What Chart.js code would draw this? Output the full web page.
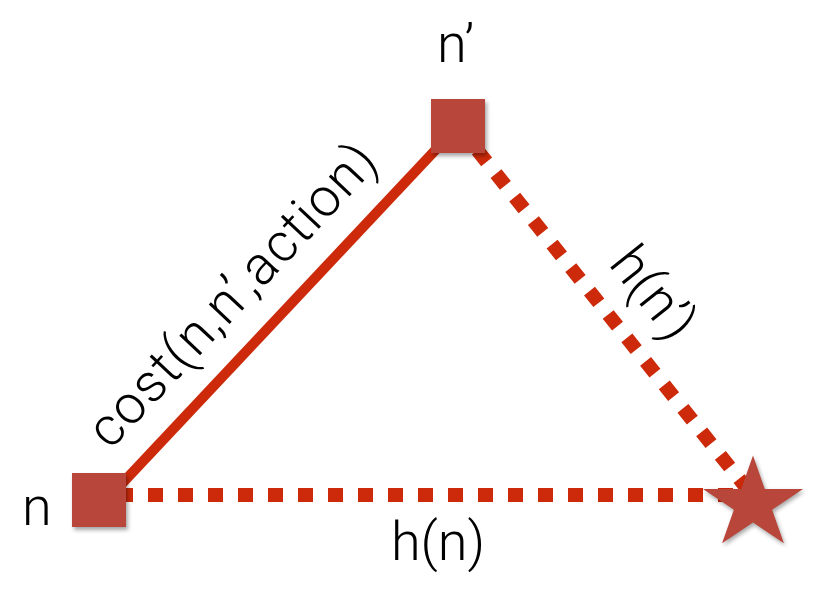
<!DOCTYPE html>
<html>
<head>
<meta charset="utf-8">
<script src="https://cdn.jsdelivr.net/npm/chart.js@4.4.0/dist/chart.umd.min.js"></script>
<style>
  html, body { margin: 0; padding: 0; background: #ffffff; }
  #wrap { width: 833px; height: 591px; position: relative; }
</style>
</head>
<body>
<div id="wrap"><canvas id="c" width="833" height="591"></canvas></div>
<script>
// ---- data (diagram coordinates) ----
const nodeNames = ['n', 'n’', 'goal'];
const nodeX = [99, 458, 753];
const nodeY = [500, 126, 504];

const costEdgeX = [100, 458];
const costEdgeY = [507, 126];
const hPrimeEdgeX = [458, 752];
const hPrimeEdgeY = [126, 495];
const hEdgeX = [100, 752];
const hEdgeY = [495, 495];

const nodeText = ['n', 'n’'];
const costText = 'cost(n,n’,action)';
const hPrimeText = 'h(n’)';
const hText = 'h(n)';

// ---- styles / layout (kept apart from the data) ----
const LINE_RED = '#cc2a0a';
const NODE_RED = '#b8463a';
const FONT = '300 54px Roboto, "Open Sans", Lato, sans-serif';
const labelLayout = {
  nodeLabels: [ {dx: -77, dy: 25}, {dx: -21, dy: -64} ], // left-aligned, relative to node
  edgeOffset: 31,
  hTextY: 560
};

function toPts(xs, ys) { return xs.map((x, i) => ({x: x, y: ys[i]})); }

function makeSquare(size) {
  const pad = 10;
  const c = document.createElement('canvas');
  c.width = size + pad * 2; c.height = size + pad * 2;
  const g = c.getContext('2d');
  g.shadowColor = 'rgba(0,0,0,0.35)';
  g.shadowBlur = 4; g.shadowOffsetX = 1.5; g.shadowOffsetY = 2.5;
  g.fillStyle = NODE_RED;
  g.fillRect(pad, pad, size, size);
  return c;
}
function makeStar(R, sy) {
  const S = 140;
  const c = document.createElement('canvas');
  c.width = S; c.height = S;
  const g = c.getContext('2d');
  g.shadowColor = 'rgba(0,0,0,0.35)';
  g.shadowBlur = 4; g.shadowOffsetX = 1.5; g.shadowOffsetY = 2.5;
  g.fillStyle = NODE_RED;
  g.beginPath();
  const ri = R * 0.382;
  for (let k = 0; k < 10; k++) {
    const r = k % 2 === 0 ? R : ri;
    const a = -Math.PI / 2 + k * Math.PI / 5;
    const px = S / 2 + r * Math.cos(a);
    const py = S / 2 + r * Math.sin(a) * sy;
    if (k === 0) g.moveTo(px, py); else g.lineTo(px, py);
  }
  g.closePath();
  g.fill();
  return c;
}

const labelPlugin = {
  id: 'diagramLabels',
  afterDatasetsDraw(chart) {
    const ctx = chart.ctx;
    const xs = chart.scales.x, ys = chart.scales.y;
    ctx.save();
    ctx.fillStyle = '#000';
    ctx.font = FONT;
    ctx.textBaseline = 'alphabetic';
    // node labels
    ctx.textAlign = 'left';
    nodeText.forEach((t, i) => {
      const px = xs.getPixelForValue(nodeX[i]) + labelLayout.nodeLabels[i].dx;
      const py = ys.getPixelForValue(nodeY[i]) + labelLayout.nodeLabels[i].dy;
      ctx.fillText(t, px, py);
    });
    // edge labels
    function edgeLabel(text, ex, ey, along, spacing) {
      const x0 = xs.getPixelForValue(ex[0]), y0 = ys.getPixelForValue(ey[0]);
      const x1 = xs.getPixelForValue(ex[1]), y1 = ys.getPixelForValue(ey[1]);
      let ang = Math.atan2(y1 - y0, x1 - x0);
      const len = Math.hypot(x1 - x0, y1 - y0);
      const ux = (x1 - x0) / len, uy = (y1 - y0) / len;
      let nx = uy, ny = -ux;
      if (ny > 0) { nx = -nx; ny = -ny; }
      const cx = x0 + ux * len * along + nx * labelLayout.edgeOffset;
      const cy = y0 + uy * len * along + ny * labelLayout.edgeOffset;
      if (ang > Math.PI / 2) ang -= Math.PI;
      if (ang < -Math.PI / 2) ang += Math.PI;
      ctx.save();
      ctx.translate(cx, cy);
      ctx.rotate(ang);
      ctx.textAlign = 'center';
      if (spacing && 'letterSpacing' in ctx) ctx.letterSpacing = spacing;
      ctx.fillText(text, 0, 0);
      ctx.restore();
    }
    edgeLabel(costText, costEdgeX, costEdgeY, 0.47, '1.4px');
    edgeLabel(hPrimeText, hPrimeEdgeX, hPrimeEdgeY, 0.535, null);
    // bottom label
    ctx.textAlign = 'center';
    const hx = (xs.getPixelForValue(hEdgeX[0]) + xs.getPixelForValue(hEdgeX[1])) / 2 + 12;
    ctx.fillText(hText, hx, labelLayout.hTextY);
    ctx.restore();
  }
};

function build() {
  const sq = makeSquare(54);
  const star = makeStar(52.6, 0.92);
  new Chart(document.getElementById('c'), {
    type: 'scatter',
    data: {
      datasets: [
        {
          label: 'nodes',
          data: toPts(nodeX, nodeY),
          pointStyle: [sq, sq, star],
          pointRadius: 30,
          showLine: false,
          order: 0,
          clip: false
        },
        {
          label: 'cost',
          data: toPts(costEdgeX, costEdgeY),
          showLine: true,
          borderColor: LINE_RED,
          borderWidth: 10,
          borderCapStyle: 'butt',
          pointRadius: 0,
          order: 1,
          clip: false
        },
        {
          label: 'hprime',
          data: toPts(hPrimeEdgeX, hPrimeEdgeY),
          showLine: true,
          borderColor: LINE_RED,
          borderWidth: 14,
          borderDash: [15, 15],
          borderDashOffset: 29,
          borderCapStyle: 'butt',
          pointRadius: 0,
          order: 1,
          clip: false
        },
        {
          label: 'h',
          data: toPts(hEdgeX, hEdgeY),
          showLine: true,
          borderColor: LINE_RED,
          borderWidth: 14,
          borderDash: [15, 15],
          borderDashOffset: 12,
          borderCapStyle: 'butt',
          pointRadius: 0,
          order: 1,
          clip: false
        }
      ]
    },
    options: {
      responsive: false,
      animation: false,
      devicePixelRatio: 1,
      layout: { padding: 0, autoPadding: false },
      plugins: { legend: { display: false }, tooltip: { enabled: false }, title: { display: false } },
      events: [],
      scales: {
        x: { type: 'linear', min: 0, max: 833, display: false },
        y: { type: 'linear', min: 0, max: 591, reverse: true, display: false }
      }
    },
    plugins: [labelPlugin]
  });
}

if (document.fonts && document.fonts.load) {
  document.fonts.load(FONT).then(build, build);
} else {
  build();
}
</script>
</body>
</html>
